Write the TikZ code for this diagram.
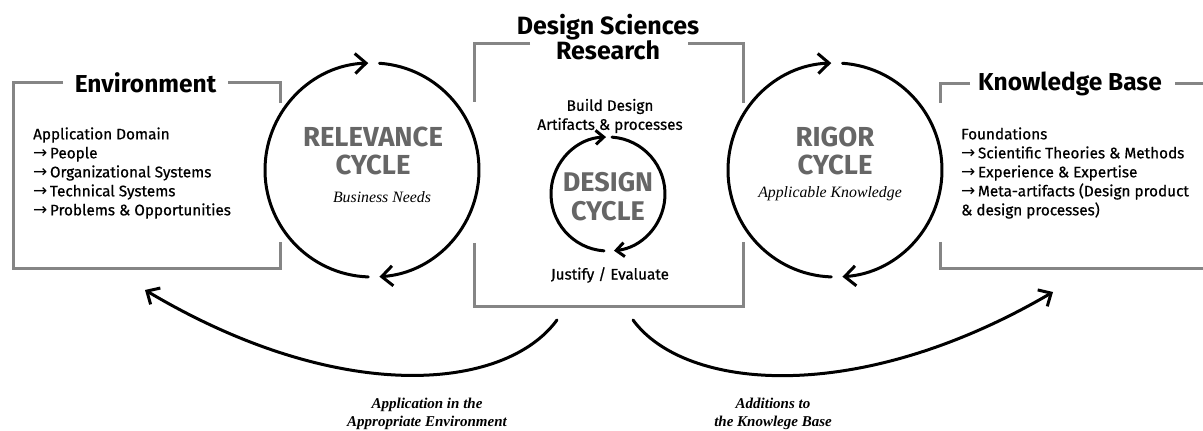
\documentclass[tikz,border=0pt]{standalone}
\usepackage{fontspec}
\usetikzlibrary{arrows.meta}
\newfontfamily\dinfont{Fira Sans}
\newfontfamily\dinmed[FakeBold=0.6]{Fira Sans}
\newfontfamily\tnrfont{Liberation Serif}
\newfontfamily\arrfont{DejaVu Sans}
\newcommand{\ar}{{\arrfont\fontsize{17}{19}\selectfont →}\,}
\definecolor{boxgray}{HTML}{858585}
\definecolor{cyclegray}{HTML}{666666}
\tikzset{
  frame/.style={draw=boxgray, line width=3pt, line cap=butt, line join=miter},
  cyc/.style={draw=black, line width=3pt, line cap=round},
  bigtip/.style={-{Straight Barb[length=11pt,width=20pt,line width=3pt]}},
  smalltip/.style={-{Straight Barb[length=8pt,width=14pt,line width=3pt]}},
  curvetip/.style={-{Straight Barb[length=10pt,width=19pt,line width=3pt]}},
  boxtitle/.style={font=\dinfont\bfseries\fontsize{24.5}{25}\selectfont, inner sep=0pt},
  bodytext/.style={font=\dinmed\fontsize{15.3}{19}\selectfont, align=left, inner sep=0pt},
  cyctitle/.style={font=\dinfont\bfseries\fontsize{27.5}{28}\selectfont, text=cyclegray, align=center, inner sep=0pt},
  ittext/.style={font=\tnrfont\itshape\fontsize{15.8}{18}\selectfont, inner sep=0pt},
  bititext/.style={font=\tnrfont\itshape\bfseries\fontsize{15}{18}\selectfont, align=center, inner sep=0pt},
}
\begin{document}
\begin{tikzpicture}[x=1pt,y=1pt]
\useasboundingbox (0,0) rectangle (1203,431);
\fill[white] (0,0) rectangle (1203,431);

% ---------- Environment box ----------
\draw[frame] (63,348) -- (13,348) -- (13,162) -- (280,162) -- (280,189);
\draw[frame] (228,348) -- (280,348) -- (280,328);
\node[boxtitle] (envtitle) at (145.5,348) {Environment};
\node[bodytext, anchor=west] (envtext) at (33,258) {Application Domain\\
\ar People\\
\ar Organizational Systems\\
\ar Technical Systems\\
\ar Problems \& Opportunities};

% ---------- Design Sciences Research box ----------
\draw[frame] (530,387) -- (474,387) -- (474,329);
\draw[frame] (474,188) -- (474,124) -- (743,124) -- (743,189);
\draw[frame] (743,328) -- (743,387) -- (688,387);
\node[boxtitle, align=center, font=\dinfont\bfseries\fontsize{25}{25}\selectfont] (dsrtitle) at (608,394) {Design Sciences\\Research};

% ---------- Knowledge Base box ----------
\draw[frame] (970,347) -- (940,347) -- (940,328);
\draw[frame] (940,189) -- (940,162) -- (1203,162);
\draw[frame] (1175,347) -- (1203,347);
\node[boxtitle] (kbtitle) at (1070,347) {Knowledge Base};
\node[bodytext, anchor=west] (kbtext) at (961,258) {Foundations\\
\ar Scientific Theories \& Methods\\
\ar Experience \& Expertise\\
\ar Meta-artifacts (Design product\\
\& design processes)};

% ---------- Relevance cycle ----------
\coordinate (relc) at (372,261);
\draw[cyc, bigtip] ([shift={(-92:107)}]relc) arc[start angle=-92, end angle=-268, radius=107];
\draw[cyc, bigtip] ([shift={(86:107)}]relc) arc[start angle=86, end angle=-86, radius=107];
\node[cyctitle] (reltitle) at (373,280) {RELEVANCE\\CYCLE};
\node[ittext] (relsub) at (382,234) {Business Needs};

% ---------- Rigor cycle ----------
\coordinate (rigc) at (835,261);
\draw[cyc, bigtip] ([shift={(-92:107)}]rigc) arc[start angle=-92, end angle=-268, radius=107];
\draw[cyc, bigtip] ([shift={(86:107)}]rigc) arc[start angle=86, end angle=-86, radius=107];
\node[cyctitle] (rigtitle) at (835,280) {RIGOR\\CYCLE};
\node[ittext] (rigsub) at (830,237) {Applicable Knowledge};

% ---------- Design cycle ----------
\coordinate (desc) at (608,237);
\draw[cyc, smalltip] ([shift={(-94:57)}]desc) arc[start angle=-94, end angle=-268, radius=57];
\draw[cyc, smalltip] ([shift={(86:57)}]desc) arc[start angle=86, end angle=-84, radius=57];
\node[cyctitle, font=\dinfont\bfseries\fontsize{27}{29}\selectfont] (destitle) at (608,234.5) {DESIGN\\CYCLE};
\node[bodytext, align=center] (build) at (610,315) {Build Design\\Artifacts \& processes};
\node[bodytext] (justify) at (610,156) {Justify / Evaluate};

% ---------- Bottom arrows ----------
\coordinate (apstart) at (557,111);
\coordinate (apend) at (145,141);
\coordinate (adstart) at (633,111);
\coordinate (adend) at (1053,139);
\draw[cyc, curvetip] (apstart) .. controls (505,40) and (340,25) .. (apend);
\draw[cyc, curvetip] (adstart) .. controls (685,40) and (858,25) .. (adend);
\node[bititext] (aplabel) at (427,17) {Application in the\\Appropriate Environment};
\node[bititext] (adlabel) at (773,17) {Additions to\\the Knowlege Base};
\end{tikzpicture}
\end{document}
